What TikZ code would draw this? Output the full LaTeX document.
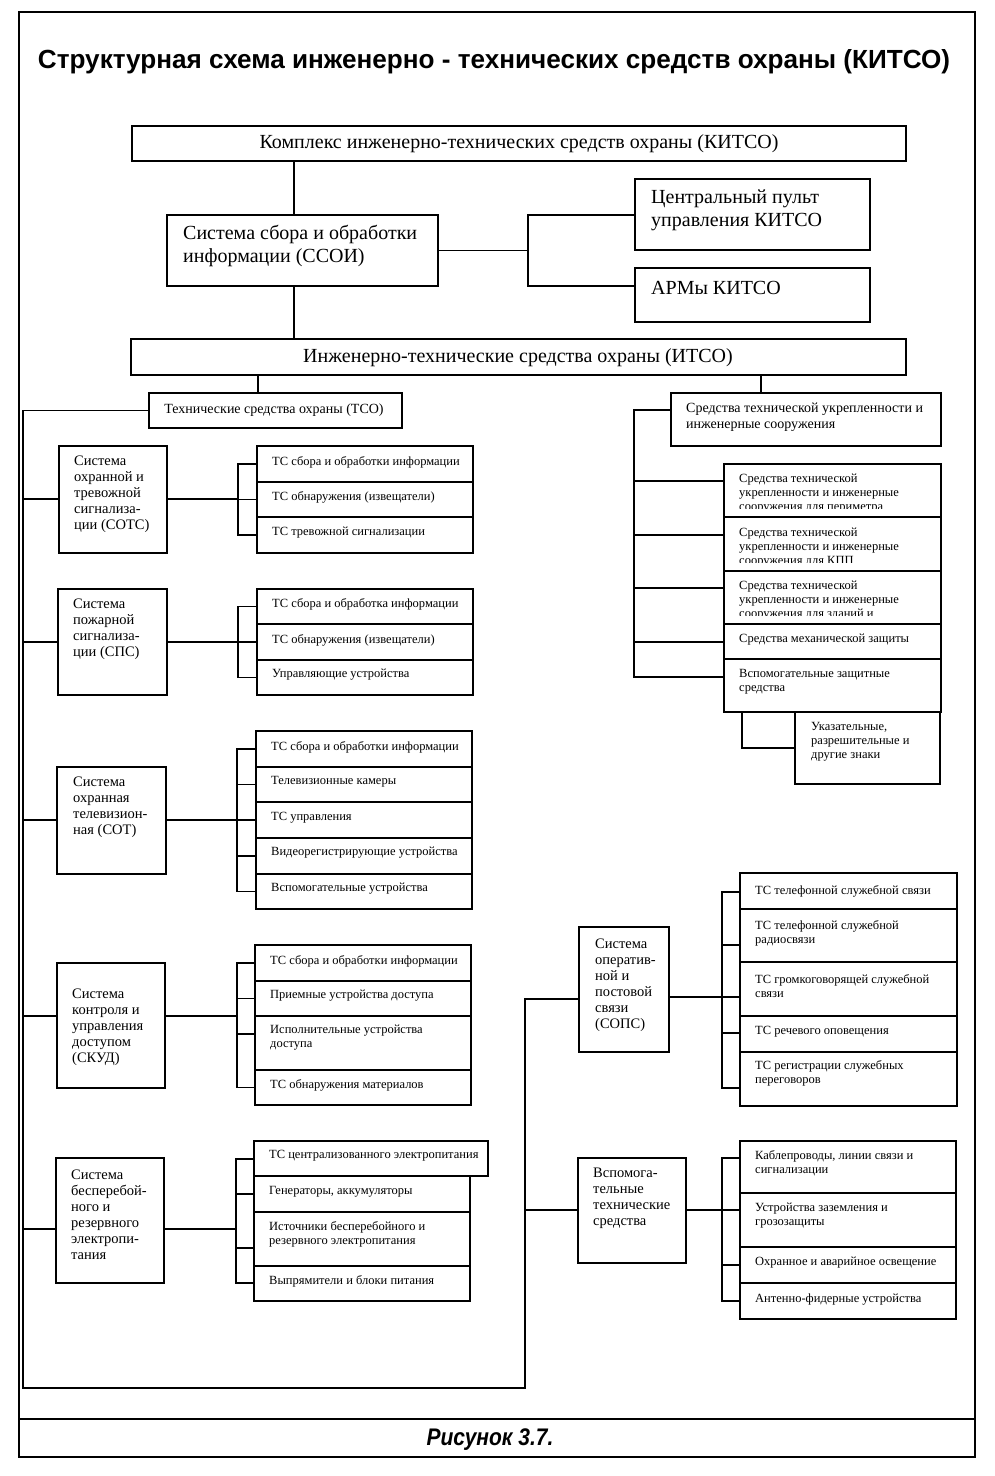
\documentclass[tikz,border=0pt]{standalone}
\usepackage{graphicx}
\usepackage{fontspec}
\setmainfont{Liberation Serif}
\newfontfamily\titlefont{Liberation Sans}
\newcommand\kbox[6][]{\node[box,#1,minimum width={#5-#3},minimum height={#6-#4}] (#2) at ({(#3+#5)/2},{(#4+#6)/2}) {};}
\begin{document}
\begin{tikzpicture}[x=1pt,y=-1pt,
 box/.style={draw, line width=1.4pt, rectangle, inner sep=0pt, outer sep=0pt, fill=white},
 ln/.style={line width=1.2pt},
 big/.style={inner sep=0pt, align=left, font=\fontsize{20}{23}\selectfont},
 mid/.style={inner sep=0pt, align=left, font=\fontsize{14.5}{16}\selectfont},
 med/.style={inner sep=0pt, align=left, font=\fontsize{14}{16}\selectfont},
 sm/.style={inner sep=0pt, align=left, font=\fontsize{12.5}{14}\selectfont},
]
\useasboundingbox (0,0) rectangle (994,1476);
\fill[white] (0,0) rectangle (994,1476);
% frame
\draw[line width=2pt] (19,12) rectangle (975,1457);
\draw[line width=2pt] (19,1419) -- (975,1419);
\node[inner sep=0pt, anchor=base] (title) at (494,68) {\resizebox{912pt}{19pt}{\titlefont\bfseries\fontsize{25}{30}\selectfont Структурная схема инженерно - технических средств охраны (КИТСО)}};
\node[inner sep=0pt, anchor=base] (cap) at (490,1445) {\resizebox{127pt}{\height}{\titlefont\bfseries\itshape\fontsize{24}{28}\selectfont Рисунок 3.7.}};

% top
\kbox{kitso}{132}{126}{906}{161}
\node[big] (tkitso) at (519,144) {Комплекс инженерно-технических средств охраны (КИТСО)};
\kbox{ssoi}{167}{215}{438}{286}
\node[big, anchor=west] (tssoi) at (183,246) {Система сбора и обработки\\информации (ССОИ)};
\kbox{cp}{635}{179}{870}{250}
\node[big, anchor=west] (tcp) at (651,210) {Центральный пульт\\управления КИТСО};
\kbox{arm}{635}{268}{870}{322}
\node[big, anchor=west] (tarm) at (651,288) {АРМы КИТСО};
\kbox{itso}{131}{339}{906}{375}
\node[big] (titso) at (518,358) {Инженерно-технические средства охраны (ИТСО)};
\draw[ln] (294,0 |- kitso.south) -- (294,0 |- ssoi.north);
\draw[ln] (294,0 |- ssoi.south) -- (294,0 |- itso.north);
\draw[ln] (ssoi.east) -- (528,0 |- ssoi.east);
\draw[ln] (cp.west |- 0,215) -| (528,286) -- (arm.west |- 0,286);

% TSO and SUI
\kbox{tso}{149}{393}{402}{428}
\node[med] (ttso) at (274,410) {Технические средства охраны (ТСО)};
\kbox{sui}{671}{393}{941}{446}
\node[med, anchor=west] (tsui) at (686,417) {Средства технической укрепленности и\\инженерные сооружения};
\draw[ln] (258,0 |- itso.south) -- (258,0 |- tso.north);
\draw[ln] (761,0 |- itso.south) -- (761,0 |- sui.north);

% SUI stack
\kbox{s1}{724}{464}{941}{517}
\begin{scope}\clip (724,464) rectangle (941,508);
\node[sm, anchor=west] (ts1) at (739,494) {Средства технической\\укрепленности и инженерные\\сооружения для периметра};
\end{scope}
\kbox{s2}{724}{517}{941}{571}
\begin{scope}\clip (724,517) rectangle (941,562);
\node[sm, anchor=west] (ts2) at (739,548) {Средства технической\\укрепленности и инженерные\\сооружения для КПП};
\end{scope}
\kbox{s3}{724}{571}{941}{624}
\begin{scope}\clip (724,571) rectangle (941,615);
\node[sm, anchor=west] (ts3) at (739,601) {Средства технической\\укрепленности и инженерные\\сооружения для зданий и};
\end{scope}
\kbox{s4}{724}{624}{941}{659}
\node[sm, anchor=west] (ts4) at (739,640) {Средства механической защиты};
\kbox{s5}{724}{659}{941}{712}
\node[sm, anchor=west] (ts5) at (739,682) {Вспомогательные защитные\\средства};
\kbox{s6}{795}{712}{940}{784}
\node[sm, anchor=west] (ts6) at (811,742) {Указательные,\\разрешительные и\\другие знаки};
\draw[ln] (sui.west |- 0,410) -| (634,677) -- (s5.west |- 0,677);
\draw[ln] (634,481) -- (s1.west |- 0,481);
\draw[ln] (634,535) -- (s2.west |- 0,535);
\draw[ln] (634,588) -- (s3.west |- 0,588);
\draw[ln] (634,642) -- (s4.west |- 0,642);
\draw[ln] (742,0 |- s5.south) |- (s6.west |- 0,748);

% main left bus
\kbox{sops}{579}{927}{669}{1052}
\draw[ln] (tso.west) -| (23,1388) -| (525,999) -- (sops.west |- 0,999);

% SOTS
\kbox{sots}{59}{446}{167}{553}
\node[mid, anchor=west] (tsots) at (74,494) {Система\\охранной и\\тревожной\\сигнализа-\\ции (СОТС)};
\kbox{a1}{257}{446}{473}{482}
\kbox{a2}{257}{482}{473}{517}
\kbox{a3}{257}{517}{473}{553}
\node[sm, anchor=west] (ta1) at (272,462) {ТС сбора и обработки информации};
\node[sm, anchor=west] (ta2) at (272,497) {ТС обнаружения (извещатели)};
\node[sm, anchor=west] (ta3) at (272,533) {ТС тревожной сигнализации};
\draw[ln] (23,499) -- (sots.west |- 0,499);
\draw[ln] (sots.east |- 0,499) -- (238,499);
\draw[ln] (a1.west) -| (238,0 |- a3.west) -- (a3.west);
\draw[ln] (238,0 |- a2.west) -- (a2.west);

% SPS
\kbox{sps}{58}{589}{167}{695}
\node[mid, anchor=west] (tsps) at (73,629) {Система\\пожарной\\сигнализа-\\ции (СПС)};
\kbox{b1}{257}{589}{473}{624}
\kbox{b2}{257}{624}{473}{660}
\kbox{b3}{257}{660}{473}{695}
\node[sm, anchor=west] (tb1) at (272,604) {ТС сбора и обработка информации};
\node[sm, anchor=west] (tb2) at (272,640) {ТС обнаружения (извещатели)};
\node[sm, anchor=west] (tb3) at (272,675) {Управляющие устройства};
\draw[ln] (23,642) -- (sps.west |- 0,642);
\draw[ln] (sps.east |- 0,642) -- (238,642);
\draw[ln] (b1.west) -| (238,0 |- b3.west) -- (b3.west);
\draw[ln] (238,0 |- b2.west) -- (b2.west);

% SOT
\kbox{sot}{57}{767}{166}{874}
\node[mid, anchor=west] (tsot) at (73,807) {Система\\охранная\\телевизион-\\ная (СОТ)};
\kbox{c1}{256}{731}{472}{767}
\kbox{c2}{256}{767}{472}{802}
\kbox{c3}{256}{802}{472}{838}
\kbox{c4}{256}{838}{472}{874}
\kbox{c5}{256}{874}{472}{909}
\node[sm, anchor=west] (tc1) at (271,747) {ТС сбора и обработки информации};
\node[sm, anchor=west] (tc2) at (271,782) {Телевизионные камеры};
\node[sm, anchor=west] (tc3) at (271,818) {ТС управления};
\node[sm, anchor=west] (tc4) at (271,853) {Видеорегистрирующие устройства};
\node[sm, anchor=west] (tc5) at (271,889) {Вспомогательные устройства};
\draw[ln] (23,820) -- (sot.west |- 0,820);
\draw[ln] (sot.east |- 0,820) -- (237,820);
\draw[ln] (c1.west) -| (237,0 |- c5.west) -- (c5.west);
\draw[ln] (237,0 |- c2.west) -- (c2.west);
\draw[ln] (237,0 |- c3.west) -- (c3.west);
\draw[ln] (237,0 |- c4.west) -- (c4.west);

% SKUD
\kbox{skud}{57}{963}{165}{1088}
\node[mid, anchor=west] (tskud) at (72,1027) {Система\\контроля и\\управления\\доступом\\(СКУД)};
\kbox{d1}{255}{945}{471}{981}
\kbox{d2}{255}{981}{471}{1016}
\kbox{d3}{255}{1016}{471}{1070}
\kbox{d4}{255}{1070}{471}{1105}
\node[sm, anchor=west] (td1) at (270,961) {ТС сбора и обработки информации};
\node[sm, anchor=west] (td2) at (270,996) {Приемные устройства доступа};
\node[sm, anchor=west] (td3) at (270,1038) {Исполнительные устройства\\доступа};
\node[sm, anchor=west] (td4) at (270,1085) {ТС обнаружения материалов};
\draw[ln] (23,1016) -- (skud.west |- 0,1016);
\draw[ln] (skud.east |- 0,1016) -- (237,1016);
\draw[ln] (d1.west) -| (237,0 |- d4.west) -- (d4.west);
\draw[ln] (237,0 |- d2.west) -- (d2.west);
\draw[ln] (237,1034) -- (d3.west |- 0,1034);

% SBP
\kbox{sbp}{56}{1158}{164}{1283}
\node[mid, anchor=west] (tsbp) at (71,1215) {Система\\бесперебой-\\ного и\\резервного\\электропи-\\тания};
\kbox{e1}{254}{1141}{488}{1176}
\kbox{e2}{254}{1176}{470}{1212}
\kbox{e3}{254}{1212}{470}{1266}
\kbox{e4}{254}{1266}{470}{1301}
\node[sm, anchor=west] (te1) at (269,1156) {ТС централизованного электропитания};
\node[sm, anchor=west] (te2) at (269,1192) {Генераторы, аккумуляторы};
\node[sm, anchor=west] (te3) at (269,1234) {Источники бесперебойного и\\резервного электропитания};
\node[sm, anchor=west] (te4) at (269,1281) {Выпрямители и блоки питания};
\draw[ln] (23,1229) -- (sbp.west |- 0,1229);
\draw[ln] (sbp.east |- 0,1229) -- (236,1229);
\draw[ln] (e1.west |- 0,1159) -| (236,1283) -- (e4.west |- 0,1283);
\draw[ln] (236,1194) -- (e2.west |- 0,1194);
\draw[ln] (236,1248) -- (e3.west |- 0,1248);

% SOPS
\node[mid, anchor=west] (tsops) at (595,985) {Система\\оператив-\\ной и\\постовой\\связи\\(СОПС)};
\kbox{f1}{740}{873}{957}{909}
\kbox{f2}{740}{909}{957}{962}
\kbox{f3}{740}{962}{957}{1016}
\kbox{f4}{740}{1016}{957}{1052}
\kbox{f5}{740}{1052}{957}{1106}
\node[sm, anchor=west] (tf1) at (755,891) {ТС телефонной служебной связи};
\node[sm, anchor=west] (tf2) at (755,933) {ТС телефонной служебной\\радиосвязи};
\node[sm, anchor=west] (tf3) at (755,986) {ТС громкоговорящей служебной\\связи};
\node[sm, anchor=west] (tf4) at (755,1032) {ТС речевого оповещения};
\node[sm, anchor=west] (tf5) at (755,1073) {ТС регистрации служебных\\переговоров};
\draw[ln] (sops.east |- 0,997) -- (722,997);
\draw[ln] (f1.west |- 0,892) -| (722,1088) -- (f5.west |- 0,1088);
\draw[ln] (722,945) -- (f2.west |- 0,945);
\draw[ln] (722,997) -- (f3.west |- 0,997);
\draw[ln] (722,1033) -- (f4.west |- 0,1033);

% VTS
\kbox{vts}{578}{1158}{686}{1263}
\node[mid, anchor=west] (tvts) at (593,1198) {Вспомога-\\тельные\\технические\\средства};
\kbox{g1}{740}{1141}{956}{1193}
\kbox{g2}{740}{1193}{956}{1247}
\kbox{g3}{740}{1247}{956}{1283}
\kbox{g4}{740}{1283}{956}{1319}
\node[sm, anchor=west] (tg1) at (755,1163) {Каблепроводы, линии связи и\\сигнализации};
\node[sm, anchor=west] (tg2) at (755,1216) {Устройства заземления и\\грозозащиты};
\node[sm, anchor=west] (tg3) at (755,1263) {Охранное и аварийное освещение};
\node[sm, anchor=west] (tg4) at (755,1299) {Антенно-фидерные устройства};
\draw[ln] (525,1210) -- (vts.west |- 0,1210);
\draw[ln] (vts.east |- 0,1210) -- (722,1210);
\draw[ln] (g1.west |- 0,1158) -| (722,1301) -- (g4.west |- 0,1301);
\draw[ln] (722,1210) -- (g2.west |- 0,1210);
\draw[ln] (722,1265) -- (g3.west |- 0,1265);
\end{tikzpicture}
\end{document}
